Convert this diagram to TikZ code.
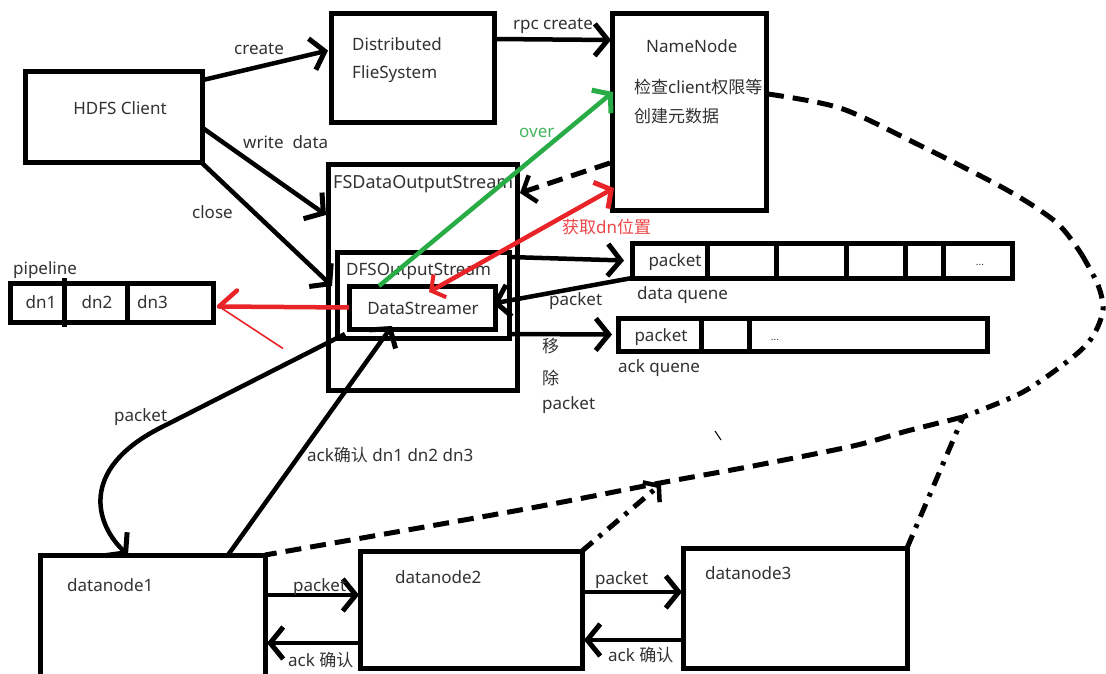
\documentclass[tikz,border=0pt]{standalone}
\usepackage{fontspec}
\setmainfont{Noto Sans}
\newfontfamily\cjk{Noto Sans CJK SC}
\usetikzlibrary{arrows.meta,calc}
\definecolor{txt}{RGB}{50,50,50}
\definecolor{hred}{RGB}{232,36,40}
\definecolor{hgreen}{RGB}{40,172,70}
\definecolor{tred}{RGB}{236,70,72}
\definecolor{tgreen}{RGB}{70,180,95}
\newcommand\lab{\fontsize{17}{20}\selectfont}
\newcommand\smalllab{\fontsize{10}{12}\selectfont}
\begin{document}
\begin{tikzpicture}[x=1pt,y=-1pt,
  box/.style={draw=black, line width=5pt, inner sep=0pt, outer sep=0pt, anchor=north west},
  divider/.style={draw=black, line width=5pt},
  lbl/.style={text=txt, font=\lab, inner sep=0pt, anchor=west},
  conn/.style={draw=black, line width=4.5pt},
  hd/.style={-{Straight Barb[length=13pt,width=32pt,line width=5pt]}},
  rline/.style={draw=hred, line width=4.5pt},
  gline/.style={draw=hgreen, line width=4.5pt},
  dline/.style={draw=black, line width=5pt, dash pattern=on 16pt off 9pt},
  ddline/.style={draw=black, line width=5pt, dash pattern=on 14pt off 8pt on 4pt off 8pt}]
\fill[white] (0,0) rectangle (1106,674);
\useasboundingbox (0,0) rectangle (1106,674);

% boxes
\node[box, minimum width=177, minimum height=91] (client) at (25,72) {};
\node[box, minimum width=163, minimum height=109] (dfs) at (331,14) {};
\node[box, minimum width=154, minimum height=196] (nn) at (612,14) {};
\node[box, minimum width=189, minimum height=225] (fsd) at (328,165) {};
\node[box, minimum width=172, minimum height=86] (dfsout) at (337,252) {};
\node[box, minimum width=146, minimum height=43] (ds) at (349,286) {};
\node[box, minimum width=203, minimum height=39] (pipe) at (10,283) {};
\node[box, minimum width=380, minimum height=35] (dq) at (632,243) {};
\node[box, minimum width=369, minimum height=33] (aq) at (618,318) {};
\node[box, minimum width=225, minimum height=140] (dn1) at (40,555) {};
\node[box, minimum width=222, minimum height=117] (dn2) at (360,551) {};
\node[box, minimum width=224, minimum height=120] (dn3) at (683,548) {};

% dividers
\draw[divider] ($(pipe.north west)+(54,-5)$) -- ($(pipe.south west)+(54,5)$);
\draw[divider] ($(pipe.north west)+(117,0)$) -- ($(pipe.south west)+(117,0)$);
\foreach \d in {75,144,214,273,311}
  \draw[divider] ($(dq.north west)+(\d,0)$) -- ($(dq.south west)+(\d,0)$);
\foreach \d in {83,131}
  \draw[divider] ($(aq.north west)+(\d,0)$) -- ($(aq.south west)+(\d,0)$);

% box texts
\node[lbl, anchor=center] (tclient) at (120,108) {HDFS Client};
\node[lbl] (tdfs1) at (352,44) {Distributed};
\node[lbl] (tdfs2) at (352,74) {FlieSystem};
\node[lbl] (tnn1) at (646,46) {NameNode};
\node[lbl] (tnn2) at (634,87) {{\cjk 检查}client{\cjk 权限等}};
\node[lbl] (tnn3) at (634,116) {{\cjk 创建元数据}};
\node[lbl, font=\fontsize{18}{21}\selectfont] (tfsd) at (333,184) {FSDataOutputStream};
\node[lbl] (tdfsout) at (346,271) {DFSOutputStream};
\node[lbl, anchor=center] (tds) at (423,308) {DataStreamer};
\node[lbl] (tpipe) at (13,270) {pipeline};
\node[lbl, anchor=center] (tdn1p) at (41,302) {dn1};
\node[lbl, anchor=center] (tdn2p) at (97,302) {dn2};
\node[lbl] (tdn3p) at (137,302) {dn3};
\node[lbl, anchor=center] (tdqp) at (675,262) {packet};
\node[lbl, anchor=center, font=\smalllab] (tdqd) at (980,265) {...};
\node[lbl] (tdq) at (637,295) {data quene};
\node[lbl, anchor=center] (taqp) at (661,337) {packet};
\node[lbl, anchor=center, font=\smalllab] (taqd) at (775,340) {...};
\node[lbl] (taq) at (618,368) {ack quene};
\node[lbl] (tdn1) at (67,585) {datanode1};
\node[lbl] (tdn2) at (395,577) {datanode2};
\node[lbl] (tdn3) at (705,573) {datanode3};

% connectors
\draw[conn,hd] ($(client.north east)+(1,8)$) -- ($(dfs.west)+(-3,-18)$);
\node[lbl, anchor=center] (lcreate) at (259,49) {create};
\draw[conn,hd] ($(dfs.north east)+(0,25)$) -- ($(nn.north west)+(-1,26)$);
\node[lbl, anchor=center] (lrpc) at (553,26) {rpc create};
\draw[conn,hd] ($(client.east)+(0,10)$) -- ($(fsd.north west)+(-2,50)$);
\node[lbl] (lwrite) at (243,142) {write\ \ data};
\draw[conn,hd] (client.south east) -- ($(dfsout.north west)+(-5,34)$);
\node[lbl] (lclose) at (192,212) {close};

\draw[gline,-{Straight Barb[length=12pt,width=30pt,line width=5pt]}] ($(ds.north west)+(30,0)$) -- ($(nn.north west)+(1,78)$);
\node[lbl, text=tgreen] (lover) at (519,133) {over};

\draw[rline,{Straight Barb[length=10pt,width=26pt,line width=4pt]}-{Straight Barb[length=12pt,width=30pt,line width=5pt]}] ($(ds.north west)+(80,6)$) -- ($(nn.south west)+(2,-22)$);
\node[lbl, text=tred] (lred) at (562,227) {{\cjk 获取}dn{\cjk 位置}};

\coordinate (rtip) at ($(pipe.east)+(6,4)$);
\draw[rline] (ds.west) -- (rtip);
\draw[rline, line cap=round] (rtip) -- ++(18,-16);
\draw[draw=hred, line width=1.6pt] (rtip) -- ++(64,42);

\draw[dline,-{Straight Barb[length=11pt,width=28pt,line width=4.5pt]}] ($(nn.south west)+(-2,-47)$) -- ($(fsd.north east)+(3,28)$);

\draw[conn,hd] ($(dfsout.north east)+(0,5)$) -- ($(dq.west)+(-8,0)$);
\draw[conn,hd] (dq.south west) -- ($(ds.east)+(-2,-4)$);
\node[lbl] (lpk1) at (549,301) {packet};
\draw[conn,hd] ($(dfsout.south east)+(0,-4)$) -- ($(aq.west)+(-6,0)$);
\node[lbl] (lmove1) at (542,346) {{\cjk 移}};
\node[lbl] (lmove2) at (542,378) {{\cjk 除}};
\node[lbl] (lmove3) at (542,405) {packet};

\coordinate (pk1) at (160,428);
\coordinate (pkc1) at (78,470);
\coordinate (pkc2) at (96,525);
\draw[conn,hd] ($(dfsout.south west)+(8,-4)$) -- (pk1) .. controls (pkc1) and (pkc2) .. ($(dn1.north west)+(88,0)$);
\node[lbl] (lpk2) at (114,417) {packet};
\draw[conn,hd] ($(dn1.north west)+(188,0)$) -- ($(ds.south west)+(43,-3)$);
\node[lbl] (lack) at (307,455) {ack{\cjk 确认} dn1 dn2 dn3};

\draw[conn,hd] ($(dn1.north east)+(0,40)$) -- ($(dn2.north west)+(-1,44)$);
\node[lbl] (lp12) at (293,587) {packet};
\draw[conn,hd] ($(dn2.north west)+(0,92)$) -- ($(dn1.north east)+(2,88)$);
\node[lbl] (la21) at (288,660) {ack {\cjk 确认}};
\draw[conn,hd] ($(dn2.north east)+(0,41)$) -- ($(dn3.north west)+(-1,44)$);
\node[lbl] (lp23) at (595,580) {packet};
\draw[conn,hd] ($(dn3.north west)+(0,92)$) -- ($(dn2.north east)+(2,89)$);
\node[lbl] (la32) at (608,655) {ack {\cjk 确认}};

% dashed loop
\coordinate (nnr) at ($(nn.east)+(2,-18)$);
\draw[dline] plot[smooth] coordinates {(nnr) (840,108) (913,142) (1007,190) (1057,223) (1082,255)};
\draw[ddline] plot[smooth] coordinates {(1082,255) (1098,285) (1103,310) (1093,336) (1073,357) (1023,392) (963,417)};
\draw[dline] plot[smooth] coordinates {(963,417) (907,431) (853,446) (753,466) (660,483) (520,510) (dn1.north east)};
\draw[ddline,-{Straight Barb[length=10pt,width=26pt,line width=4.5pt]}] (dn2.north east) -- (661,484);
\draw[ddline] (dn3.north east) -- (963,417);
\draw[line width=1pt] (715,431) -- (721,440);
\end{tikzpicture}
\end{document}
